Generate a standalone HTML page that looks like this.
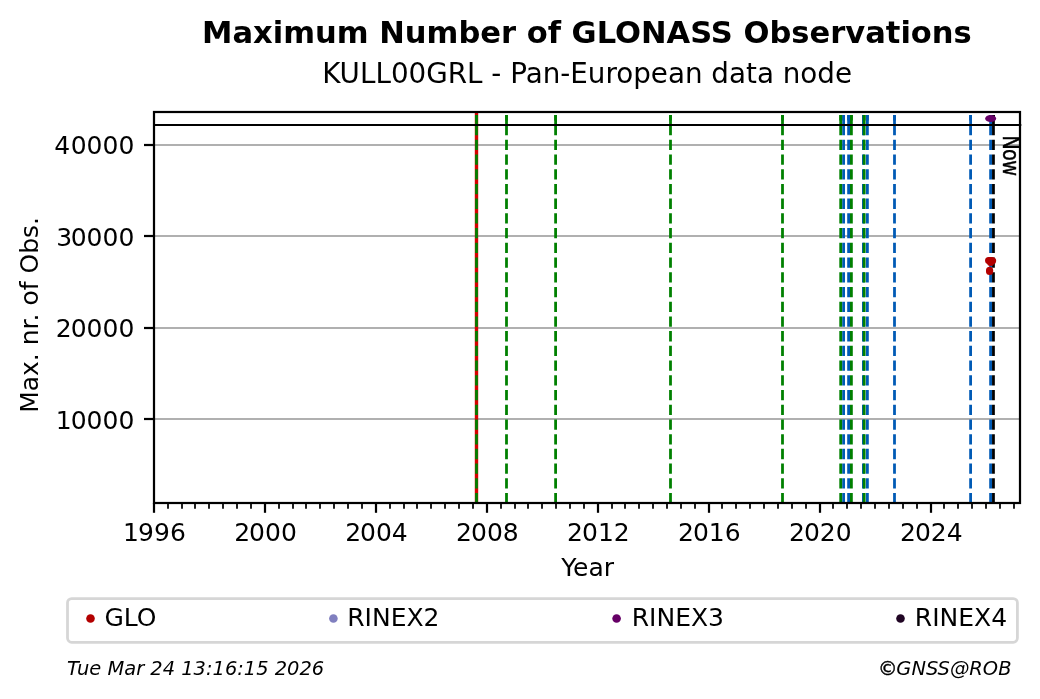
<!DOCTYPE html>
<html lang="en"><head><meta charset="utf-8"><title>Maximum Number of GLONASS Observations</title>
<style>html,body{margin:0;padding:0;background:#fff}svg{display:block;will-change:transform}text{font-family:"DejaVu Sans","Liberation Sans",sans-serif;fill:#000}</style>
</head><body>
<svg width="1040" height="699" viewBox="0 0 1040 699">
<rect width="1040" height="699" fill="#fff"/>
<line x1="154" y1="145" x2="1020" y2="145" stroke="#b0b0b0" stroke-width="2.22"/>
<line x1="154" y1="236" x2="1020" y2="236" stroke="#b0b0b0" stroke-width="2.22"/>
<line x1="154" y1="328" x2="1020" y2="328" stroke="#b0b0b0" stroke-width="2.22"/>
<line x1="154" y1="419" x2="1020" y2="419" stroke="#b0b0b0" stroke-width="2.22"/>
<line x1="476.5" y1="112" x2="476.5" y2="503" stroke="#d60000" stroke-width="3.4"/>
<line x1="863.4" y1="503.3" x2="863.4" y2="115" stroke="#005ab5" stroke-width="2.78" stroke-dasharray="10.28 4.44"/>
<line x1="863.4" y1="115" x2="863.4" y2="125.5" stroke="#005ab5" stroke-width="2.78"/>
<line x1="843.6" y1="503.3" x2="843.6" y2="115" stroke="#005ab5" stroke-width="2.78" stroke-dasharray="10.28 4.44"/>
<line x1="843.6" y1="115" x2="843.6" y2="125.5" stroke="#005ab5" stroke-width="2.78"/>
<line x1="848.6" y1="503.3" x2="848.6" y2="115" stroke="#005ab5" stroke-width="2.78" stroke-dasharray="10.28 4.44"/>
<line x1="848.6" y1="115" x2="848.6" y2="125.5" stroke="#005ab5" stroke-width="2.78"/>
<line x1="867.4" y1="503.3" x2="867.4" y2="115" stroke="#005ab5" stroke-width="2.78" stroke-dasharray="10.28 4.44"/>
<line x1="867.4" y1="115" x2="867.4" y2="125.5" stroke="#005ab5" stroke-width="2.78"/>
<line x1="894.5" y1="503.3" x2="894.5" y2="115" stroke="#005ab5" stroke-width="2.78" stroke-dasharray="10.28 4.44"/>
<line x1="894.5" y1="115" x2="894.5" y2="125.5" stroke="#005ab5" stroke-width="2.78"/>
<line x1="970.6" y1="503.3" x2="970.6" y2="115" stroke="#005ab5" stroke-width="2.78" stroke-dasharray="10.28 4.44"/>
<line x1="970.6" y1="115" x2="970.6" y2="125.5" stroke="#005ab5" stroke-width="2.78"/>
<line x1="990.6" y1="503.3" x2="990.6" y2="115" stroke="#005ab5" stroke-width="2.78" stroke-dasharray="10.28 4.44"/>
<line x1="990.6" y1="115" x2="990.6" y2="125.5" stroke="#005ab5" stroke-width="2.78"/>
<line x1="476.5" y1="503.3" x2="476.5" y2="115" stroke="#008000" stroke-width="2.78" stroke-dasharray="10.28 4.44"/>
<line x1="476.5" y1="115" x2="476.5" y2="125.5" stroke="#008000" stroke-width="2.78"/>
<line x1="506.5" y1="503.3" x2="506.5" y2="115" stroke="#008000" stroke-width="2.78" stroke-dasharray="10.28 4.44"/>
<line x1="506.5" y1="115" x2="506.5" y2="125.5" stroke="#008000" stroke-width="2.78"/>
<line x1="555.6" y1="503.3" x2="555.6" y2="115" stroke="#008000" stroke-width="2.78" stroke-dasharray="10.28 4.44"/>
<line x1="555.6" y1="115" x2="555.6" y2="125.5" stroke="#008000" stroke-width="2.78"/>
<line x1="670.5" y1="503.3" x2="670.5" y2="115" stroke="#008000" stroke-width="2.78" stroke-dasharray="10.28 4.44"/>
<line x1="670.5" y1="115" x2="670.5" y2="125.5" stroke="#008000" stroke-width="2.78"/>
<line x1="782.5" y1="503.3" x2="782.5" y2="115" stroke="#008000" stroke-width="2.78" stroke-dasharray="10.28 4.44"/>
<line x1="782.5" y1="115" x2="782.5" y2="125.5" stroke="#008000" stroke-width="2.78"/>
<line x1="840.7" y1="503.3" x2="840.7" y2="115" stroke="#008000" stroke-width="2.78" stroke-dasharray="10.28 4.44"/>
<line x1="840.7" y1="115" x2="840.7" y2="125.5" stroke="#008000" stroke-width="2.78"/>
<line x1="851.4" y1="503.3" x2="851.4" y2="115" stroke="#008000" stroke-width="2.78" stroke-dasharray="10.28 4.44"/>
<line x1="851.4" y1="115" x2="851.4" y2="125.5" stroke="#008000" stroke-width="2.78"/>
<line x1="864.2" y1="503.3" x2="864.2" y2="115" stroke="#008000" stroke-width="2.78" stroke-dasharray="10.28 4.44"/>
<line x1="864.2" y1="115" x2="864.2" y2="125.5" stroke="#008000" stroke-width="2.78"/>
<line x1="993.45" y1="503.3" x2="993.45" y2="115" stroke="#000000" stroke-width="2.78" stroke-dasharray="10.28 4.44"/>
<line x1="993.45" y1="115" x2="993.45" y2="125.5" stroke="#000000" stroke-width="2.78"/>
<line x1="153" y1="125" x2="1021.3" y2="125" stroke="#000" stroke-width="2.22"/>
<ellipse cx="990.65" cy="118.5" rx="5.5" ry="3.6" fill="#660066"/>
<circle cx="988.6" cy="260.6" r="3.55" fill="#b30000"/>
<circle cx="990" cy="260.7" r="3.55" fill="#b30000"/>
<circle cx="991.3" cy="260.6" r="3.55" fill="#b30000"/>
<circle cx="992.6" cy="260.8" r="3.55" fill="#b30000"/>
<circle cx="990.6" cy="262.5" r="3.55" fill="#b30000"/>
<circle cx="989.6" cy="270.3" r="3.55" fill="#b30000"/>
<circle cx="989.6" cy="271.5" r="3.55" fill="#b30000"/>
<rect x="154" y="112" width="866" height="391" fill="none" stroke="#000" stroke-width="2.22"/>
<line x1="154" y1="503" x2="154" y2="512.8" stroke="#000" stroke-width="2.22"/>
<text x="123.04 138.09 154.00 169.91" y="541" font-size="25">1996</text>
<line x1="168" y1="503" x2="168" y2="508.7" stroke="#000" stroke-width="1.75"/>
<line x1="182" y1="503" x2="182" y2="508.7" stroke="#000" stroke-width="1.75"/>
<line x1="195" y1="503" x2="195" y2="508.7" stroke="#000" stroke-width="1.75"/>
<line x1="209" y1="503" x2="209" y2="508.7" stroke="#000" stroke-width="1.75"/>
<line x1="223" y1="503" x2="223" y2="508.7" stroke="#000" stroke-width="1.75"/>
<line x1="237" y1="503" x2="237" y2="508.7" stroke="#000" stroke-width="1.75"/>
<line x1="251" y1="503" x2="251" y2="508.7" stroke="#000" stroke-width="1.75"/>
<line x1="265" y1="503" x2="265" y2="512.8" stroke="#000" stroke-width="2.22"/>
<text x="234.16 249.07 264.97 280.88" y="541" font-size="25">2000</text>
<line x1="279" y1="503" x2="279" y2="508.7" stroke="#000" stroke-width="1.75"/>
<line x1="293" y1="503" x2="293" y2="508.7" stroke="#000" stroke-width="1.75"/>
<line x1="306" y1="503" x2="306" y2="508.7" stroke="#000" stroke-width="1.75"/>
<line x1="320" y1="503" x2="320" y2="508.7" stroke="#000" stroke-width="1.75"/>
<line x1="334" y1="503" x2="334" y2="508.7" stroke="#000" stroke-width="1.75"/>
<line x1="348" y1="503" x2="348" y2="508.7" stroke="#000" stroke-width="1.75"/>
<line x1="362" y1="503" x2="362" y2="508.7" stroke="#000" stroke-width="1.75"/>
<line x1="376" y1="503" x2="376" y2="512.8" stroke="#000" stroke-width="2.22"/>
<text x="345.13 360.04 375.94 391.85" y="541" font-size="25">2004</text>
<line x1="390" y1="503" x2="390" y2="508.7" stroke="#000" stroke-width="1.75"/>
<line x1="404" y1="503" x2="404" y2="508.7" stroke="#000" stroke-width="1.75"/>
<line x1="417" y1="503" x2="417" y2="508.7" stroke="#000" stroke-width="1.75"/>
<line x1="431" y1="503" x2="431" y2="508.7" stroke="#000" stroke-width="1.75"/>
<line x1="445" y1="503" x2="445" y2="508.7" stroke="#000" stroke-width="1.75"/>
<line x1="459" y1="503" x2="459" y2="508.7" stroke="#000" stroke-width="1.75"/>
<line x1="473" y1="503" x2="473" y2="508.7" stroke="#000" stroke-width="1.75"/>
<line x1="487" y1="503" x2="487" y2="512.8" stroke="#000" stroke-width="2.22"/>
<text x="456.10 471.01 486.91 502.82" y="541" font-size="25">2008</text>
<line x1="501" y1="503" x2="501" y2="508.7" stroke="#000" stroke-width="1.75"/>
<line x1="515" y1="503" x2="515" y2="508.7" stroke="#000" stroke-width="1.75"/>
<line x1="528" y1="503" x2="528" y2="508.7" stroke="#000" stroke-width="1.75"/>
<line x1="542" y1="503" x2="542" y2="508.7" stroke="#000" stroke-width="1.75"/>
<line x1="556" y1="503" x2="556" y2="508.7" stroke="#000" stroke-width="1.75"/>
<line x1="570" y1="503" x2="570" y2="508.7" stroke="#000" stroke-width="1.75"/>
<line x1="584" y1="503" x2="584" y2="508.7" stroke="#000" stroke-width="1.75"/>
<line x1="598" y1="503" x2="598" y2="512.8" stroke="#000" stroke-width="2.22"/>
<text x="567.07 581.98 597.89 613.79" y="541" font-size="25">2012</text>
<line x1="612" y1="503" x2="612" y2="508.7" stroke="#000" stroke-width="1.75"/>
<line x1="625" y1="503" x2="625" y2="508.7" stroke="#000" stroke-width="1.75"/>
<line x1="639" y1="503" x2="639" y2="508.7" stroke="#000" stroke-width="1.75"/>
<line x1="653" y1="503" x2="653" y2="508.7" stroke="#000" stroke-width="1.75"/>
<line x1="667" y1="503" x2="667" y2="508.7" stroke="#000" stroke-width="1.75"/>
<line x1="681" y1="503" x2="681" y2="508.7" stroke="#000" stroke-width="1.75"/>
<line x1="695" y1="503" x2="695" y2="508.7" stroke="#000" stroke-width="1.75"/>
<line x1="709" y1="503" x2="709" y2="512.8" stroke="#000" stroke-width="2.22"/>
<text x="678.05 692.95 708.86 724.76" y="541" font-size="25">2016</text>
<line x1="722" y1="503" x2="722" y2="508.7" stroke="#000" stroke-width="1.75"/>
<line x1="736" y1="503" x2="736" y2="508.7" stroke="#000" stroke-width="1.75"/>
<line x1="750" y1="503" x2="750" y2="508.7" stroke="#000" stroke-width="1.75"/>
<line x1="764" y1="503" x2="764" y2="508.7" stroke="#000" stroke-width="1.75"/>
<line x1="778" y1="503" x2="778" y2="508.7" stroke="#000" stroke-width="1.75"/>
<line x1="792" y1="503" x2="792" y2="508.7" stroke="#000" stroke-width="1.75"/>
<line x1="806" y1="503" x2="806" y2="508.7" stroke="#000" stroke-width="1.75"/>
<line x1="820" y1="503" x2="820" y2="512.8" stroke="#000" stroke-width="2.22"/>
<text x="789.02 803.92 819.83 835.73" y="541" font-size="25">2020</text>
<line x1="833" y1="503" x2="833" y2="508.7" stroke="#000" stroke-width="1.75"/>
<line x1="847" y1="503" x2="847" y2="508.7" stroke="#000" stroke-width="1.75"/>
<line x1="861" y1="503" x2="861" y2="508.7" stroke="#000" stroke-width="1.75"/>
<line x1="875" y1="503" x2="875" y2="508.7" stroke="#000" stroke-width="1.75"/>
<line x1="889" y1="503" x2="889" y2="508.7" stroke="#000" stroke-width="1.75"/>
<line x1="903" y1="503" x2="903" y2="508.7" stroke="#000" stroke-width="1.75"/>
<line x1="917" y1="503" x2="917" y2="508.7" stroke="#000" stroke-width="1.75"/>
<line x1="931" y1="503" x2="931" y2="512.8" stroke="#000" stroke-width="2.22"/>
<text x="899.99 914.89 930.80 946.71" y="541" font-size="25">2024</text>
<line x1="944" y1="503" x2="944" y2="508.7" stroke="#000" stroke-width="1.75"/>
<line x1="958" y1="503" x2="958" y2="508.7" stroke="#000" stroke-width="1.75"/>
<line x1="972" y1="503" x2="972" y2="508.7" stroke="#000" stroke-width="1.75"/>
<line x1="986" y1="503" x2="986" y2="508.7" stroke="#000" stroke-width="1.75"/>
<line x1="1000" y1="503" x2="1000" y2="508.7" stroke="#000" stroke-width="1.75"/>
<line x1="1014" y1="503" x2="1014" y2="508.7" stroke="#000" stroke-width="1.75"/>
<line x1="144" y1="145" x2="154" y2="145" stroke="#000" stroke-width="2.22"/>
<text x="54.37 70.68 86.58 102.49 118.39" y="154" font-size="25">40000</text>
<line x1="144" y1="236" x2="154" y2="236" stroke="#000" stroke-width="2.22"/>
<text x="56.27 70.68 86.58 102.49 118.39" y="246" font-size="25">30000</text>
<line x1="144" y1="328" x2="154" y2="328" stroke="#000" stroke-width="2.22"/>
<text x="55.67 70.68 86.58 102.49 118.39" y="337" font-size="25">20000</text>
<line x1="144" y1="419" x2="154" y2="419" stroke="#000" stroke-width="2.22"/>
<text x="55.67 70.68 86.58 102.49 118.39" y="429" font-size="25">10000</text>
<text x="587.6" y="576" font-size="25" text-anchor="middle">Year</text>
<text transform="translate(38.2,314.9) rotate(-90)" font-size="25" text-anchor="middle">Max. nr. of Obs.</text>
<text x="586.9" y="42.5" font-size="30.56" font-weight="bold" text-anchor="middle">Maximum Number of GLONASS Observations</text>
<text x="587.1" y="82.7" font-size="27.78" text-anchor="middle">KULL00GRL - Pan-European data node</text>
<text transform="translate(1002.9,135.3) rotate(90) scale(1,1.166)" font-size="19.44" letter-spacing="-0.75" stroke="#000" stroke-width="0.35">Now</text>
<rect x="67.5" y="598.6" width="949.9" height="43.7" rx="4.2" ry="4.2" fill="#fff" stroke="#d6d6d6" stroke-width="2.78"/>
<circle cx="90.5" cy="618.55" r="4.3" fill="#b30000"/>
<text x="104.4" y="626.2" font-size="25">GLO</text>
<circle cx="333.4" cy="618.55" r="4.3" fill="#807fbf"/>
<text x="347.2" y="626.2" font-size="25">RINEX2</text>
<circle cx="616.6" cy="618.55" r="4.3" fill="#660066"/>
<text x="631.7" y="626.2" font-size="25">RINEX3</text>
<circle cx="900.5" cy="618.55" r="4.3" fill="#200524"/>
<text x="914.8" y="626.2" font-size="25">RINEX4</text>
<text x="67.1" y="675.4" font-size="19.44" font-style="oblique">Tue Mar 24 13:16:15 2026</text>
<text x="878.0" y="675.4" font-size="19.44" stroke="#000" stroke-width="0.4">©</text>
<text x="1011.5" y="675.4" font-size="19.44" font-style="oblique" text-anchor="end">GNSS@ROB</text>
</svg></body></html>
